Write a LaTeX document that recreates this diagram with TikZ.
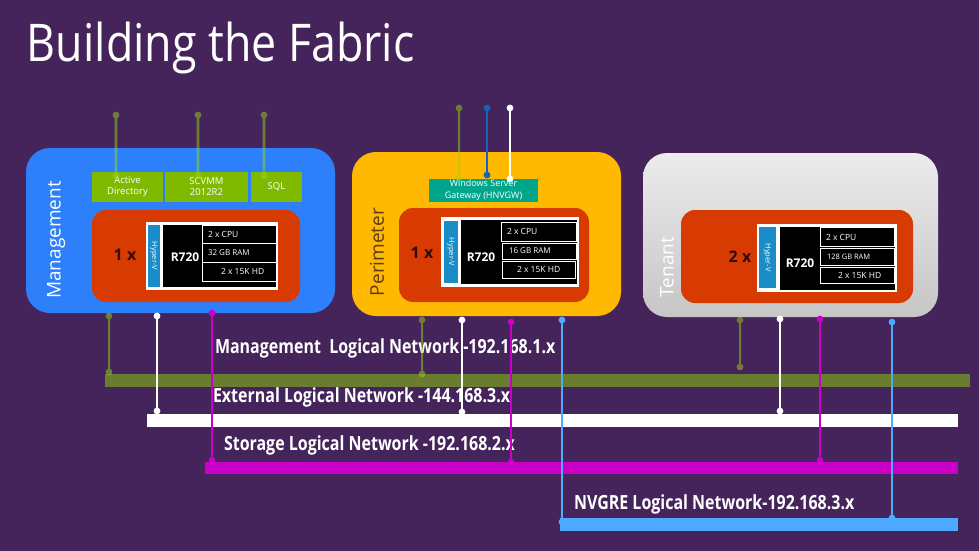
\documentclass[tikz,border=0pt]{standalone}
\usepackage{fontspec}
\setmainfont{Open Sans}
\newfontfamily\titlefont[FakeStretch=0.86]{Open Sans}
\newfontfamily\netfont[FakeStretch=0.82]{Open Sans}
\definecolor{bgc}{RGB}{68,36,90}
\definecolor{mgmtblue}{RGB}{46,128,250}
\definecolor{perimyel}{RGB}{255,185,0}
\definecolor{tenTop}{RGB}{236,236,236}
\definecolor{tenBot}{RGB}{198,198,198}
\definecolor{srvred}{RGB}{216,59,1}
\definecolor{svcgreen}{RGB}{127,186,0}
\definecolor{gwteal}{RGB}{0,166,140}
\definecolor{hvblue}{RGB}{26,140,200}
\definecolor{olivebar}{RGB}{106,125,46}
\definecolor{oliveln}{RGB}{151,214,19}
\definecolor{magen}{RGB}{200,0,200}
\definecolor{nvblue}{RGB}{77,170,255}
\definecolor{gwblue}{RGB}{20,100,190}
\definecolor{perimtxt}{RGB}{92,60,20}
\definecolor{countxt}{RGB}{45,12,12}
\begin{document}
\begin{tikzpicture}[x=1pt,y=-1pt]
\tikzset{
  every node/.style={inner sep=0pt,outer sep=0pt},
  zone/.style={rectangle,rounded corners=24pt},
  hostbox/.style={rectangle,rounded corners=14pt,fill=srvred},
  svc/.style={rectangle,fill=svcgreen,text=white,font=\fontsize{9.5}{11}\selectfont,align=center},
  srvframe/.style={rectangle,fill=white},
  hvstrip/.style={rectangle,fill=hvblue},
  hvtext/.style={rotate=-90,text=white,font=\fontsize{7.5}{7.5}\selectfont},
  blk/.style={rectangle,fill=black},
  specrow/.style={rectangle,fill=black,draw=white,line width=1pt},
  spec/.style={anchor=west,text=white,font=\fontsize{8.5}{9}\selectfont},
  model/.style={text=white,font=\bfseries\fontsize{12}{12}\selectfont},
  hostcount/.style={text=countxt,font=\bfseries\fontsize{16}{16}\selectfont},
  zonelabel/.style={rotate=90,font=\fontsize{19}{19}\selectfont},
  netbar/.style={rectangle},
  netlabel/.style={anchor=west,text=white,font=\netfont\bfseries\fontsize{19.5}{20}\selectfont},
  tap/.style={line width=2pt},
}
\useasboundingbox (0,0) rectangle (979,551);
\fill[bgc] (0,0) rectangle (979,551);

% title
\node[anchor=base west,text=white,font=\titlefont\fontsize{52}{52}\selectfont] (title) at (27,62) {Building the Fabric};

% ---------- zones ----------
\node[zone,fill=mgmtblue,minimum width=309pt,minimum height=165pt] (mgmt) at (180.5,230.5) {};
\node[zone,fill=perimyel,minimum width=269pt,minimum height=164pt] (perim) at (486.5,234) {};
\node[zone,top color=tenTop,bottom color=tenBot,minimum width=295pt,minimum height=164pt] (tenant) at (790.5,235) {};

\node[zonelabel,text=white] (mgmtlbl) at (56,240) {Management};
\node[zonelabel,text=perimtxt] (perimlbl) at (377,252) {Perimeter};
\node[zonelabel,text=white] (tenlbl) at (667,267) {Tenant};

% ---------- services ----------
\node[svc,minimum width=71pt,minimum height=30pt] (ad) at (127.5,187) {Active\\Directory};
\node[svc,minimum width=83pt,minimum height=30pt] (scvmm) at (206.5,187) {SCVMM\\2012R2};
\node[svc,minimum width=51pt,minimum height=30pt] (sql) at (276.5,187) {SQL};
\node[svc,fill=gwteal,minimum width=109pt,minimum height=23pt,font=\fontsize{9}{12}\selectfont] (gw) at (483.5,190.5) {Windows Server\\Gateway (HNVGW)};

% ---------- management host ----------
\node[hostbox,minimum width=208pt,minimum height=92pt] (mhost) at (196,256) {};
\node[hostcount] (mcount) at (125,255) {1 x};
\node[srvframe,minimum width=132pt,minimum height=68pt] (msrv) at (212,256) {};
\node[hvstrip,minimum width=12pt,minimum height=62pt] (mhv) at (154,256) {};
\node[hvtext] (mhvt) at (mhv) {Hyper-V};
\node[blk,minimum width=113pt,minimum height=62pt] (mblk) at (219.5,256) {};
\node[model] (mmod) at (185,257) {R720};
\node[specrow,minimum width=74pt,minimum height=18pt] (mcpu) at (239,234) {};
\node[specrow,minimum width=74pt,minimum height=19pt] (mram) at (239,252.5) {};
\node[specrow,minimum width=74pt,minimum height=19pt] (mhd) at (239,271.5) {};
\node[spec] at (208,234) {2 x CPU};
\node[spec,font=\fontsize{8}{9}\selectfont] at (208,252.5) {32 GB RAM};
\node[spec] at (221,271.5) {2 x 15K HD};

% ---------- perimeter host ----------
\node[hostbox,minimum width=190pt,minimum height=94pt] (phost) at (494,255) {};
\node[hostcount] (pcount) at (422,253) {1 x};
\node[srvframe,minimum width=138pt,minimum height=70pt] (psrv) at (510,252) {};
\node[hvstrip,minimum width=14pt,minimum height=62pt] (phv) at (451,252) {};
\node[hvtext] (phvt) at (phv) {Hyper-V};
\node[blk,minimum width=116pt,minimum height=64pt] (pblk) at (519,252) {};
\node[model] (pmod) at (481,257) {R720};
\node[specrow,minimum width=75pt,minimum height=19pt] (pcpu) at (538.5,231.5) {};
\node[specrow,minimum width=74pt,minimum height=16pt] (pram) at (539,251) {};
\node[specrow,minimum width=73pt,minimum height=17pt] (phd) at (538.5,269.5) {};
\node[spec] at (507,231.5) {2 x CPU};
\node[spec,font=\fontsize{8}{9}\selectfont] at (509,251) {16 GB RAM};
\node[spec] at (517,269.5) {2 x 15K HD};

% ---------- tenant host ----------
\node[hostbox,minimum width=232pt,minimum height=93pt] (thost) at (797,256.5) {};
\node[hostcount] (tcount) at (740,257) {2 x};
\node[srvframe,minimum width=140pt,minimum height=68pt] (tsrv) at (827,258) {};
\node[hvstrip,minimum width=17pt,minimum height=61pt] (thv) at (767.5,257.5) {};
\node[hvtext] (thvt) at (thv) {Hyper-V};
\node[blk,minimum width=115pt,minimum height=63pt] (tblk) at (837.5,258.5) {};
\node[model] (tmod) at (800,263) {R720};
\node[specrow,minimum width=74pt,minimum height=19pt] (tcpu) at (857,236.5) {};
\node[specrow,minimum width=74pt,minimum height=17pt] (tram) at (857,256.5) {};
\node[specrow,minimum width=74pt,minimum height=16pt] (thd) at (857,275) {};
\node[spec] at (826,237) {2 x CPU};
\node[spec,font=\fontsize{7.5}{9}\selectfont] at (827,257) {128 GB RAM};
\node[spec] at (838,275) {2 x 15K HD};

% ---------- logical networks ----------
\node[netbar,fill=olivebar,minimum width=865pt,minimum height=13pt] (mnet) at (537.5,380.5) {};
\node[netbar,fill=white,minimum width=811pt,minimum height=13pt] (enet) at (552.5,420.5) {};
\node[netbar,fill=magen,minimum width=753pt,minimum height=12pt] (snet) at (581.5,468) {};
\node[netbar,fill=nvblue,minimum width=398pt,minimum height=13pt] (nnet) at (759,524.5) {};

\node[netlabel] (mnetl) at (215,348) {Management\ \ Logical Network -192.168.1.x};
\node[netlabel] (enetl) at (213,397) {External Logical Network -144.168.3.x};
\node[netlabel] (snetl) at (224,445) {Storage Logical Network -192.168.2.x};
\node[netlabel] (nnetl) at (574,504) {NVGRE Logical Network-192.168.3.x};

% ---------- tap coordinates ----------
\coordinate (adT) at (116,115);   \coordinate (adB) at (116,176);
\coordinate (scT) at (198,115);   \coordinate (scB) at (198,176);
\coordinate (sqT) at (264,115);   \coordinate (sqB) at (264,176);
\coordinate (goT) at (459,108);   \coordinate (goB) at (459,178);
\coordinate (gbT) at (487,108);   \coordinate (gbB) at (487,175);
\coordinate (gwT) at (510,108);   \coordinate (gwB) at (510,179);

\coordinate (mo1) at (109,316);   \coordinate (mo2) at (109,372);
\coordinate (mw1) at (157,316);   \coordinate (mw2) at (157,411);
\coordinate (mm1) at (212,313);   \coordinate (mm2) at (212,460);
\coordinate (po1) at (422,320);   \coordinate (po2) at (422,374);
\coordinate (pw1) at (462,320);   \coordinate (pw2) at (462,412);
\coordinate (pm1) at (511,322);   \coordinate (pm2) at (511,462);
\coordinate (pb1) at (562,320);   \coordinate (pb2) at (562,522);
\coordinate (to1) at (740,320);   \coordinate (to2) at (740,367);
\coordinate (tw1) at (780,319);   \coordinate (tw2) at (780,411);
\coordinate (tm1) at (820,319);   \coordinate (tm2) at (820,460);
\coordinate (tb1) at (892,322);   \coordinate (tb2) at (892,518);

% olive (semi-transparent) taps
\foreach \a/\b/\w in {adT/adB/2.6,scT/scB/2.6,sqT/sqB/2.6,goT/goB/2.4,mo1/mo2/2,po1/po2/2,to1/to2/2}{
  \begin{scope}[transparency group,opacity=0.5]
    \draw[draw=oliveln,line width=\w pt] (\a) -- (\b);
    \fill[oliveln] (\a) circle (3.4pt) (\b) circle (3.4pt);
  \end{scope}
}
% gateway blue and white
\draw[tap,draw=gwblue,line width=2.4pt] (gbT) -- (gbB);
\fill[gwblue] (gbT) circle (3.4pt) (gbB) circle (3.4pt);
\draw[tap,draw=white,line width=2.4pt] (gwT) -- (gwB);
\fill[white] (gwT) circle (3.4pt) (gwB) circle (3.4pt);

% white taps
\foreach \a/\b in {mw1/mw2,pw1/pw2,tw1/tw2}{
  \draw[tap,draw=white] (\a) -- (\b);
  \fill[white] (\a) circle (3.4pt) (\b) circle (3.4pt);
}
% magenta taps
\foreach \a/\b in {mm1/mm2,pm1/pm2,tm1/tm2}{
  \draw[tap,draw=magen] (\a) -- (\b);
  \fill[magen] (\a) circle (3.4pt) (\b) circle (3.4pt);
}
% NVGRE taps
\foreach \a/\b in {pb1/pb2,tb1/tb2}{
  \draw[tap,draw=nvblue] (\a) -- (\b);
  \fill[nvblue] (\a) circle (3.4pt) (\b) circle (3.4pt);
}
\end{tikzpicture}
\end{document}
